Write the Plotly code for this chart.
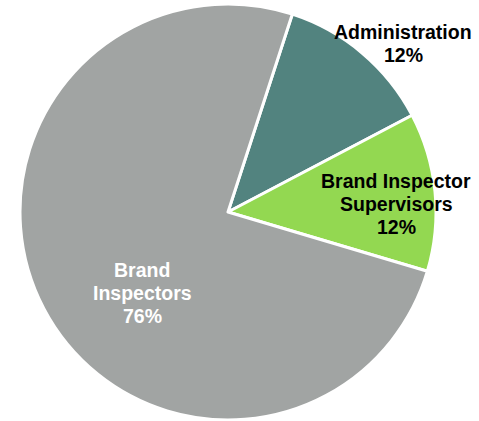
import plotly.graph_objects as go

labels = ["Administration", "Brand Inspector Supervisors", "Brand Inspectors"]
values = [12.3, 12.3, 75.4]
label_lines = [
    ["Administration", "12%"],
    ["Brand Inspector", "Supervisors", "12%"],
    ["Brand", "Inspectors", "76%"],
]
colors = ["#52837F", "#93D851", "#A1A4A3"]
text_colors = ["#000000", "#000000", "#FFFFFF"]
label_pos = [(403, 32), (396, 181), (142, 270)]  # pixel centre of first line
LINE_STEP = 23

W, H = 479, 421

fig = go.Figure(go.Pie(
    labels=labels,
    values=values,
    sort=False,
    direction="clockwise",
    rotation=18,
    marker=dict(colors=colors, line=dict(color="white", width=3)),
    textinfo="none",
    hoverinfo="label",
    domain=dict(x=[20 / W, 436 / W], y=[1 - 420 / H, 1 - 4 / H]),
    showlegend=False,
))

for lines, c, (px, py) in zip(label_lines, text_colors, label_pos):
    for i, line in enumerate(lines):
        fig.add_annotation(
            x=px / W, y=1 - (py + i * LINE_STEP) / H, xref="paper", yref="paper",
            text="<b>" + line + "</b>",
            showarrow=False, xanchor="center", yanchor="middle",
            font=dict(family="Liberation Sans, Arial, sans-serif", size=19.5, color=c),
            align="center",
        )

fig.update_layout(
    width=W, height=H,
    margin=dict(l=0, r=0, t=0, b=0),
    paper_bgcolor="white",
    plot_bgcolor="white",
    font=dict(family="Liberation Sans, Arial, sans-serif"),
)

fig.write_html(
    "out.html",
    config={"displayModeBar": False},
    post_script="document.body.style.margin='0';document.body.style.overflow='hidden';",
)
